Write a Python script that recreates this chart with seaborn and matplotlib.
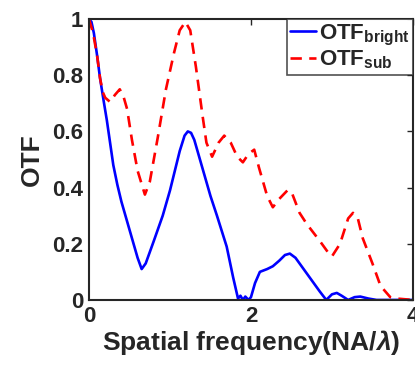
import numpy as np
import pandas as pd
import matplotlib
matplotlib.use("Agg")
import matplotlib.pyplot as plt
import seaborn as sns

# Data
x_bright = [0, 0.03, 0.06, 0.1, 0.136, 0.18, 0.22, 0.26, 0.3, 0.35, 0.4, 0.51, 0.6, 0.65, 0.7,
            0.8, 0.91, 1.0, 1.12, 1.18, 1.22, 1.26, 1.3, 1.35, 1.4, 1.5, 1.58, 1.7, 1.78,
            1.84, 1.87, 1.9, 1.93, 1.97, 2.0, 2.05, 2.11, 2.2, 2.27, 2.35, 2.42, 2.48, 2.55,
            2.65, 2.75, 2.85, 2.93, 3.0, 3.06, 3.12, 3.2, 3.28, 3.35, 3.45, 3.55, 4.0]
y_bright = [1.0, 0.99, 0.95, 0.87, 0.79, 0.71, 0.64, 0.56, 0.48, 0.41, 0.35, 0.24, 0.15, 0.11,
            0.13, 0.21, 0.30, 0.39, 0.53, 0.585, 0.60, 0.595, 0.57, 0.52, 0.47, 0.37, 0.30,
            0.19, 0.08, 0.005, 0.015, 0.0, 0.012, 0.0, 0.01, 0.06, 0.10, 0.11, 0.12, 0.14,
            0.16, 0.165, 0.15, 0.11, 0.07, 0.03, 0.0, 0.02, 0.025, 0.015, 0.0, 0.01, 0.012,
            0.005, 0.0, 0.0]

x_sub = [0, 0.05, 0.1, 0.136, 0.17, 0.2, 0.26, 0.32, 0.38, 0.43, 0.47, 0.53, 0.6, 0.69, 0.75,
         0.85, 0.95, 1.05, 1.12, 1.19, 1.25, 1.32, 1.4, 1.45, 1.52, 1.6, 1.67, 1.75, 1.83,
         1.9, 1.97, 2.04, 2.1, 2.2, 2.27, 2.35, 2.45, 2.5, 2.6, 2.69, 2.85, 2.95, 3.0, 3.1,
         3.2, 3.26, 3.32, 3.38, 3.5, 3.6, 3.72, 3.8, 4.0]
y_sub = [1.0, 0.95, 0.87, 0.79, 0.74, 0.72, 0.705, 0.73, 0.75, 0.72, 0.68, 0.57, 0.46, 0.375,
         0.42, 0.58, 0.75, 0.88, 0.96, 0.99, 0.96, 0.83, 0.66, 0.56, 0.51, 0.56, 0.585,
         0.56, 0.51, 0.49, 0.52, 0.535, 0.47, 0.37, 0.33, 0.36, 0.39, 0.385, 0.31, 0.27,
         0.21, 0.17, 0.155, 0.20, 0.29, 0.31, 0.29, 0.22, 0.13, 0.05, 0.01, 0.005, 0.0]

x_ticks = [0, 2, 4]
y_ticks = [0, 0.2, 0.4, 0.6, 0.8, 1]
y_ticklabels = ["0", "0.2", "0.4", "0.6", "0.8", "1"]

sns.set_theme(style="white")
plt.rcParams['font.family'] = ['Liberation Sans', 'DejaVu Sans']
plt.rcParams['mathtext.fontset'] = 'custom'
plt.rcParams['mathtext.rm'] = 'Liberation Sans:bold'
plt.rcParams['mathtext.bf'] = 'Liberation Sans:bold'
plt.rcParams['mathtext.it'] = 'Liberation Sans:italic:bold'

fig = plt.figure(figsize=(4.15, 3.74), dpi=100)
ax = fig.add_axes([0.2145, 0.198, 0.7805, 0.751])

df_b = pd.DataFrame({"x": x_bright, "y": y_bright})
df_s = pd.DataFrame({"x": x_sub, "y": y_sub})
sns.lineplot(data=df_b, x="x", y="y", ax=ax, color="#0000ff", linewidth=1.9,
             label=r"$\mathbf{OTF}_{\mathbf{bright}}$", sort=False)
sns.lineplot(data=df_s, x="x", y="y", ax=ax, color="#ff0000", linewidth=1.9,
             label=r"$\mathbf{OTF}_{\mathbf{sub}}$", sort=False)
ax.lines[1].set_dashes([4.3, 2.8])

ax.set_xlim(0, 4)
ax.set_ylim(0, 1)
ax.set_xticks(x_ticks)
ax.set_xticklabels([str(t) for t in x_ticks])
ax.set_yticks(y_ticks)
ax.set_yticklabels(y_ticklabels)
ax.tick_params(direction="in", length=4, width=1, top=True, right=True,
               labelsize=16, colors="#262626", labelcolor="#262626", pad=4)
for lab in ax.get_xticklabels() + ax.get_yticklabels():
    lab.set_fontweight("bold")
for s in ax.spines.values():
    s.set_color("#262626")
    s.set_linewidth(1.5)

ax.set_xlabel(r"Spatial frequency(NA/$\lambda$)", fontsize=19, fontweight="bold",
              color="#262626", labelpad=1)
ax.set_ylabel("OTF", fontsize=19, fontweight="bold", color="#262626", labelpad=6)

leg = ax.legend(loc="upper right", fontsize=16, frameon=True, fancybox=False,
                edgecolor="#262626", borderaxespad=0, handlelength=1.15,
                handletextpad=0.15, borderpad=0.15, labelspacing=0.05)
leg.get_frame().set_linewidth(1.2)

fig.savefig("out.png", dpi=100)
